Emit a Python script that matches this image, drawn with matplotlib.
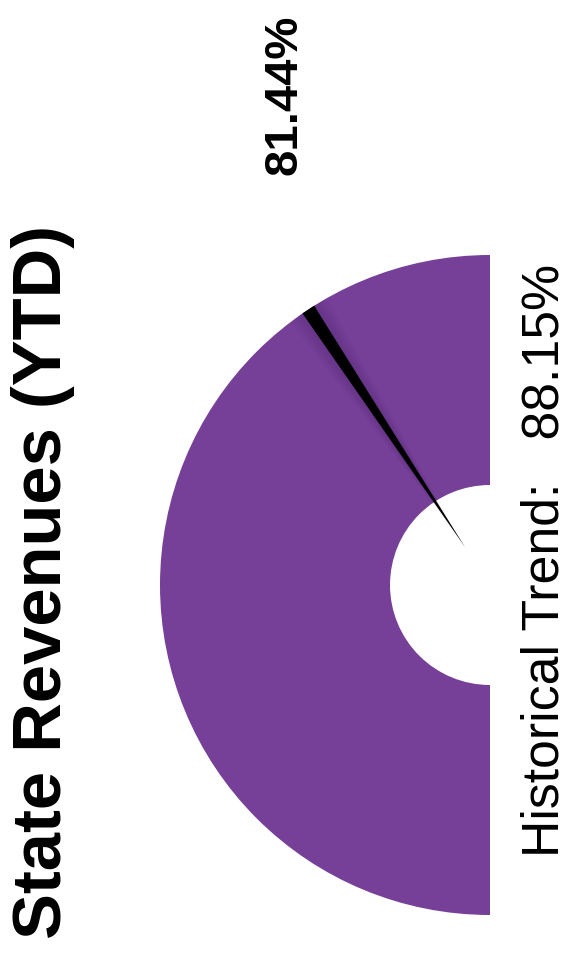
import numpy as np
import matplotlib
matplotlib.use("Agg")
import matplotlib.pyplot as plt
from matplotlib.patches import Wedge, Polygon

# gauge data
title = "State Revenues (YTD)"
value = 81.44
historical = 88.15
gauge_min, gauge_max = 0, 100
bar_color = "#763F98"

W, H = 568, 961
fig = plt.figure(figsize=(W / 100, H / 100), dpi=100)
ax = fig.add_axes([0, 0, 1, 1])
ax.set_xlim(0, W)
ax.set_ylim(0, H)
ax.set_aspect("equal")
ax.axis("off")

# gauge geometry (pixels, y up); the gauge is turned 90 deg, so 0 is at the bottom
cx, cy = 490, H - 585
r_out, r_in = 330, 100


def val_to_angle(v):
    frac = (v - gauge_min) / (gauge_max - gauge_min)
    return 270 - 180 * frac


ax.add_patch(Wedge((cx, cy), r_out, 90, 270, width=r_out - r_in,
                   facecolor=bar_color, edgecolor="none"))

# needle: thin wedge from near the hub out to the rim
th = np.deg2rad(val_to_angle(value))
d = np.array([np.cos(th), np.sin(th)])
n = np.array([-d[1], d[0]])
c = np.array([cx, cy])
r_tip, r_base, half_w = 45, r_out, 7

# soft shadow
for k in range(1, 6):
    w = half_w + 3 * k
    pts = [c + d * (r_tip + 20), c + d * r_base + n * w, c + d * r_base - n * w]
    ax.add_patch(Polygon(pts, closed=True, facecolor="black",
                         edgecolor="none", alpha=0.02))
pts = [c + d * r_tip, c + d * r_base + n * half_w, c + d * r_base - n * half_w]
ax.add_patch(Polygon(pts, closed=True, facecolor="black", edgecolor="none"))

font = ["Liberation Sans", "DejaVu Sans"]
ax.text(43, H - 582, title, rotation=90, ha="center", va="center",
        fontsize=49.5, fontweight="bold", family=font)
ax.text(284, H - 95, f"{value:.2f}%", rotation=90, ha="center", va="center",
        fontsize=34, fontweight="bold", family=font)
ax.text(545, H - 560, f"Historical Trend:   {historical:.2f}%", rotation=90,
        ha="center", va="center", fontsize=37.3, family=font)

fig.savefig("out.png", dpi=100)
